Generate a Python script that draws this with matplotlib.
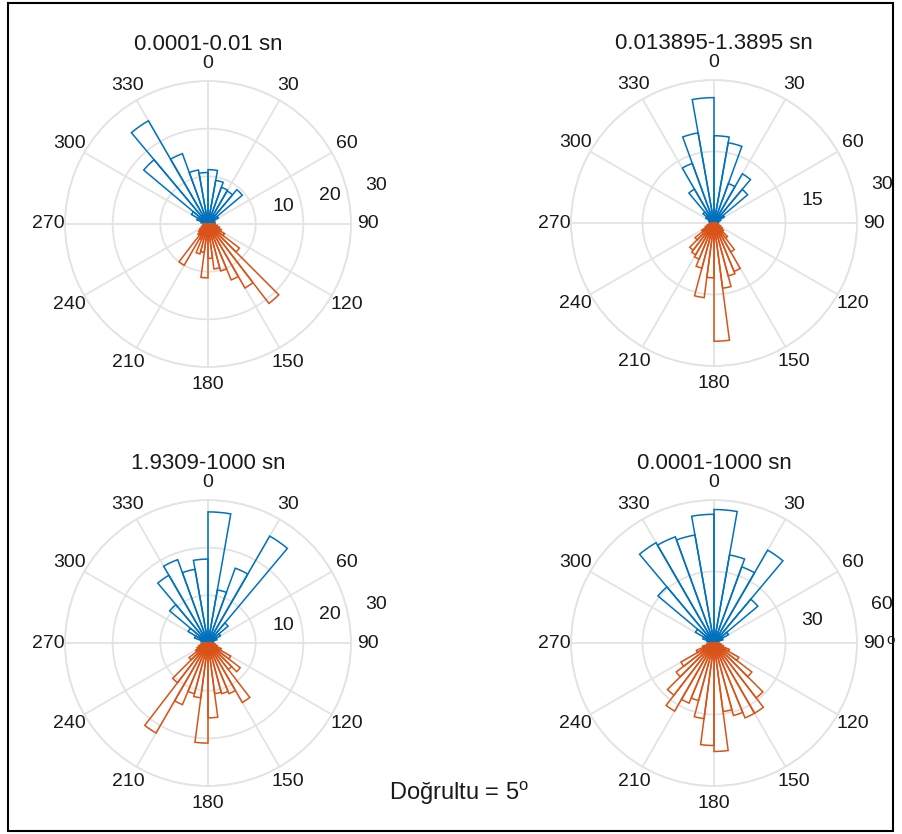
import numpy as np
import matplotlib.pyplot as plt
from matplotlib.patches import Rectangle

plt.rcParams['font.family'] = ['Liberation Sans', 'DejaVu Sans']
plt.rcParams['mathtext.fontset'] = 'custom'
plt.rcParams['mathtext.rm'] = 'Liberation Sans'

## data: blue = 10 deg bins from 270 (-90) to 90, orange = 7.5 deg bins from 90 to 270
blue_start, blue_width = -90, 10
orange_start, orange_width = 90, 7.5

titles = ['0.0001-0.01 sn', '0.013895-1.3895 sn', '1.9309-1000 sn', '0.0001-1000 sn']
rticks = [[10, 20, 30], [15, 30], [10, 20, 30], [30, 60]]
theta_ticks = list(range(0, 360, 30))

blue_1 = [1, 1.5, 2.5, 4, 17.6, 25, 15.7, 11.5, 10.8, 11.4, 9.3, 8.2, 8.0, 9.4, 2.5, 1.5, 1, 1.5]
orange_1 = [1.5, 2, 2.5, 3, 4, 8.3, 21, 15.5, 12.7, 10.2, 9.5, 7.2,
            11.3, 6, 6.5, 3.5, 10, 3, 2.5, 2, 1.5, 1.2, 1, 1]

blue_2 = [0.8, 1, 1.2, 2, 3, 8.2, 13.3, 19.2, 26.3, 18.3, 17.1, 8.8, 11.9, 9.2, 2.5, 1.5, 1, 0.8]
orange_2 = [0.5, 0.8, 1, 1.5, 2, 2.5, 4, 7, 11, 11.5, 13.8, 24.8,
            11.5, 15.8, 9.8, 8.2, 7.7, 7.2, 5, 3, 2, 1.5, 1, 0.5]

blue_3 = [1, 1.5, 3, 4.8, 10.5, 16.4, 18.6, 15.7, 17.6, 27.5, 11.3, 16.7, 25.9, 5.5, 3, 2, 1.2, 1]
orange_3 = [1, 1.5, 2, 3, 5.5, 8.5, 7, 14.4, 11.5, 11, 10.7, 15.7,
            21, 11.6, 11, 14, 21.8, 10.5, 5, 3, 2.5, 2, 1.5, 1]

blue_4 = [2, 3, 5, 9, 30.7, 48.6, 47.4, 46, 54, 56, 37.5, 34, 45, 24, 7, 4, 2, 1]
orange_4 = [2, 3, 4, 7, 12, 20, 29, 34, 34, 31.5, 29, 45.5,
            43, 32, 25, 27.3, 33, 27.6, 20, 16, 8, 5, 3, 2]

blues = [blue_1, blue_2, blue_3, blue_4]
oranges = [orange_1, orange_2, orange_3, orange_4]

# axes centers in pixels (x, y from top)
centers = [(208, 224), (714, 223), (208, 643), (714, 643)]
R = 143
W, H = 902, 834

c_blue = '#0072BD'
c_orange = '#D95319'
grid_c = '#e3e3e3'
txt_c = '#1a1a1a'

fig = plt.figure(figsize=(W / 100, H / 100), dpi=100)

def draw_rose(ax, blue, orange, ticks, title):
    ax.set_theta_zero_location('N')
    ax.set_theta_direction(-1)
    ax.set_axisbelow(True)

    b_left = np.deg2rad(blue_start + blue_width * np.arange(len(blue)))
    o_left = np.deg2rad(orange_start + orange_width * np.arange(len(orange)))
    ax.bar(b_left, blue, width=np.deg2rad(blue_width), align='edge', fill=False,
           edgecolor=c_blue, linewidth=1.1)
    ax.bar(o_left, orange, width=np.deg2rad(orange_width), align='edge', fill=False,
           edgecolor=c_orange, linewidth=1.1)

    rmax = ticks[-1]
    ax.set_rlim(0, rmax)
    ax.set_rgrids(ticks, labels=[''] * len(ticks))
    ax.set_thetagrids(theta_ticks, [''] * len(theta_ticks))
    ax.grid(color=grid_c, linewidth=1.3)
    ax.spines['polar'].set_color(grid_c)
    ax.spines['polar'].set_linewidth(1.3)

    # theta labels, centred just outside the outer ring
    for a in theta_ticks:
        ax.text(np.deg2rad(a), 1.12 * rmax, str(a), fontsize=14, color=txt_c,
                ha='center', va='center', clip_on=False)
    # r labels along ~77 deg
    for t in ticks:
        ax.text(np.deg2rad(77), t + 0.205 * rmax, str(t), fontsize=14, color=txt_c,
                ha='center', va='center', clip_on=False)

    ax.text(0.5, 1.126, title, transform=ax.transAxes, fontsize=16, color=txt_c,
            ha='center', va='center')

for i in range(4):
    cx, cy = centers[i]
    ax = fig.add_axes([(cx - R) / W, 1 - (cy + R) / H, 2 * R / W, 2 * R / H], projection='polar')
    draw_rose(ax, blues[i], oranges[i], rticks[i], titles[i])

fig.text(459 / W, 1 - 793 / H, 'Doğrultu = 5$^{\\rm o}$', fontsize=17, color=txt_c,
         ha='center', va='center')
fig.text(891 / W, 1 - 640 / H, 'o', fontsize=11, color=txt_c, ha='center', va='center')

fig.patches.append(Rectangle((8 / W, 3 / H), (893 - 8) / W, (831 - 3) / H,
                             transform=fig.transFigure, fill=False, ec='k', lw=1.5))

fig.savefig('out.png', dpi=100)
